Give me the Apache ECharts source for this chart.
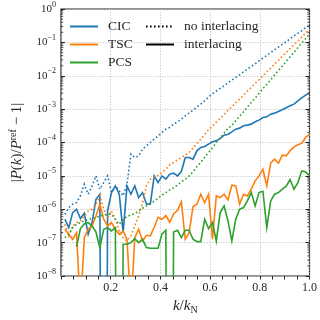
<!DOCTYPE html>
<html>
<head>
<meta charset="utf-8">
<script src="https://cdn.jsdelivr.net/npm/echarts@6/dist/echarts.min.js"></script>
<style>
  html, body { margin: 0; padding: 0; background: #fff; }
  #main { width: 320px; height: 320px; }
</style>
</head>
<body>
<div id="main"></div>
<script>
  // k / k_N sampling grid (64 bins)
  const kOverKN = [
    0.0156, 0.0313, 0.0469, 0.0625, 0.0781, 0.0938, 0.1094, 0.125,
    0.1406, 0.1563, 0.1719, 0.1875, 0.2031, 0.2188, 0.2344, 0.25,
    0.2656, 0.2813, 0.2969, 0.3125, 0.3281, 0.3438, 0.3594, 0.375,
    0.3906, 0.4063, 0.4219, 0.4375, 0.4531, 0.4688, 0.4844, 0.5,
    0.5156, 0.5313, 0.5469, 0.5625, 0.5781, 0.5938, 0.6094, 0.625,
    0.6406, 0.6563, 0.6719, 0.6875, 0.7031, 0.7188, 0.7344, 0.75,
    0.7656, 0.7813, 0.7969, 0.8125, 0.8281, 0.8438, 0.8594, 0.875,
    0.8906, 0.9063, 0.9219, 0.9375, 0.9531, 0.9688, 0.9844, 1.0
  ];

  // log10 |P(k)/P_ref - 1| (-30 = value dropped to ~0)
  const cicNoInterlacing = [
    -6.15, -5.95, -5.85, -5.8, -5.6, -5.25, -5.55, -5.3,
    -5.0, -5.4, -5.2, -5.0, -5.5, -5.3, -5.45, -5.6,
    -5.25, -4.35, -4.45, -4.4, -4.2, -4.1, -4.0, -3.9,
    -3.8, -3.7, -3.6, -3.55, -3.45, -3.38, -3.3, -3.2,
    -3.12, -3.03, -2.93, -2.85, -2.75, -2.64, -2.54, -2.46,
    -2.38, -2.3, -2.21, -2.13, -2.05, -1.97, -1.88, -1.8,
    -1.72, -1.64, -1.55, -1.47, -1.39, -1.31, -1.22, -1.14,
    -1.06, -0.98, -0.89, -0.81, -0.73, -0.65, -0.56, -0.48
  ];
  const cicInterlacing = [
    -6.3, -6.55, -6.1, -6.0, -6.28, -6.12, -6.75, -6.4,
    -5.7, -5.55, -30, -6.05, -5.5, -5.3, -5.55, -6.7,
    -5.3, -5.55, -5.3, -5.65, -5.5, -5.84, -5.85, -5.0,
    -5.2, -5.0, -5.1, -4.95, -4.92, -5.0, -4.87, -4.45,
    -4.45, -4.5, -4.25, -4.15, -4.12, -4.05, -3.98, -3.95,
    -3.88, -3.78, -3.75, -3.68, -3.6, -3.57, -3.5, -3.48,
    -3.45, -3.38, -3.33, -3.25, -3.23, -3.15, -3.12, -3.07,
    -3.02, -2.96, -2.9, -2.85, -2.75, -2.66, -2.58, -2.52
  ];
  const tscNoInterlacing = [
    -6.45, -6.8, -6.5, -6.4, -6.35, -6.2, -6.05, -6.0,
    -5.85, -5.6, -6.0, -6.25, -6.05, -6.3, -6.65, -6.85,
    -6.95, -6.8, -6.5, -6.2, -5.8, -5.3, -5.1, -5.05,
    -4.98, -4.9, -4.8, -4.67, -4.6, -4.52, -4.45, -4.38,
    -4.3, -4.17, -4.03, -3.9, -3.76, -3.62, -3.51, -3.39,
    -3.28, -3.16, -3.04, -2.93, -2.81, -2.7, -2.58, -2.46,
    -2.35, -2.23, -2.12, -2.0, -1.88, -1.77, -1.65, -1.54,
    -1.42, -1.3, -1.19, -1.07, -0.96, -0.84, -0.72, -0.61
  ];
  const tscInterlacing = [
    -6.6, -6.75, -6.9, -6.7, -9.0, -6.85, -6.6, -6.5,
    -6.2, -5.85, -6.3, -6.5, -6.4, -6.6, -6.75, -6.65,
    -6.9, -9.0, -6.85, -6.6, -6.95, -6.78, -6.8, -6.54,
    -6.24, -6.3, -6.19, -6.39, -6.14, -6.04, -5.78, -6.9,
    -6.7, -5.92, -5.85, -5.55, -5.8, -5.55, -6.9, -5.6,
    -5.65, -5.55, -5.72, -5.28, -5.3, -5.85, -5.55, -5.6,
    -5.4, -5.15, -5.0, -4.8, -5.3, -4.62, -4.5, -4.62,
    -4.38, -4.4, -4.25, -4.13, -4.07, -4.02, -3.85, -3.75
  ];
  const pcsNoInterlacing = [
    -6.85, -6.75, -6.55, -6.45, -6.4, -6.35, -6.3, -6.28,
    -6.25, -6.2, -6.18, -6.15, -6.15, -6.3, -6.45, -6.3,
    -6.22, -6.17, -6.13, -6.05, -5.97, -5.9, -5.83, -5.76,
    -5.67, -5.58, -5.5, -5.42, -5.36, -5.27, -5.18, -5.1,
    -5.0, -4.88, -4.72, -4.6, -4.44, -4.3, -4.16, -4.0,
    -3.86, -3.72, -3.58, -3.49, -3.35, -3.21, -3.08, -2.94,
    -2.8, -2.67, -2.53, -2.39, -2.26, -2.12, -1.98, -1.84,
    -1.71, -1.57, -1.43, -1.3, -1.16, -1.02, -0.89, -0.75
  ];
  const pcsInterlacing = [
    null, null, null, -7.12, -6.58, -6.44, -6.4, -6.5,
    -6.68, -7.15, -6.6, -6.55, -6.65, -6.55, -30, -7.05,
    -7.05, -7.0, -6.88, -7.0, -6.9, -7.15, -7.17, -7.17,
    -7.17, -6.75, -6.63, -30, -6.68, -6.63, -6.85, -6.63,
    -6.63, -6.9, -6.97, -6.97, -6.3, -6.58, -6.4, -6.95,
    -6.1, -5.9, -6.35, -6.95, -6.3, -6.0, -5.95, -5.75,
    -5.5, -5.9, -5.5, -5.46, -6.55, -5.75, -5.55, -5.5,
    -5.4, -5.31, -5.11, -5.4, -5.2, -4.85, -4.88, -5.0
  ];

  const xTickLabels = ['0.2', '0.4', '0.6', '0.8', '1.0'];
  const yDecades = [-8, -7, -6, -5, -4, -3, -2, -1, 0];

  const colors = { CIC: '#1f77b4', TSC: '#ff7f0e', PCS: '#2ca02c' };
  const ink = '#262626';
  const serif = 'Liberation Serif';
  const dotted = [1.6, 2.4];
  const gridDots = { color: '#b8b8b8', width: 0.8, type: [1.2, 1.6] };

  function pairs(logs) {
    return kOverKN.map((k, i) => [k, logs[i] == null ? null : Math.pow(10, logs[i])]);
  }

  // log minor ticks 2..9 x 10^n
  const minorTicks = [];
  yDecades.slice(0, -1).forEach(d => {
    for (let m = 2; m <= 9; m++) minorTicks.push([0, m * Math.pow(10, d)]);
  });

  function dataLine(name, logs, color, dash, z) {
    return {
      name: name, type: 'line', data: pairs(logs), symbol: 'none',
      clip: true, silent: true, z: z,
      lineStyle: { color: color, width: 1.6, type: dash, cap: 'butt', join: 'miter' }
    };
  }
  function legendLine(name, color, dash) {
    return {
      name: name, type: 'line', data: [], symbol: 'none', symbolSize: 0, color: color,
      lineStyle: { color: color, width: 1.6, type: dash, cap: 'butt' }
    };
  }
  function legendBlock(names, left) {
    // itemHeight kept tiny so the line icon carries no visible symbol
    return {
      data: names, orient: 'vertical', left: left, top: 19,
      padding: 0, itemWidth: 28, itemHeight: 0.6, itemGap: 3,
      textStyle: { fontFamily: serif, fontSize: 13.5, lineHeight: 15, color: ink, padding: [0, 0, 0, 5] },
      selectedMode: false
    };
  }

  const chart = echarts.init(document.getElementById('main'), null, { renderer: 'canvas' });

  const yAxisBase = {
    type: 'log', logBase: 10, min: 1e-8, max: 1, splitNumber: 8,
    axisLine: { show: false },
    axisTick: { show: true, inside: true, length: 4, lineStyle: { color: ink, width: 1 } },
    minorTick: { show: false }
  };

  chart.setOption({
    animation: false,
    textStyle: { fontFamily: serif, color: ink },
    grid: {
      left: 57, right: 9, top: 9, bottom: 39,
      show: true, borderColor: ink, borderWidth: 1.2, backgroundColor: 'transparent'
    },
    legend: [
      legendBlock(['CIC', 'TSC', 'PCS'], 69),
      legendBlock(['no interlacing', 'interlacing'], 145)
    ],
    xAxis: {
      type: 'value', min: 0, max: 1, interval: 0.2,
      name: '{i|k}{n|/}{i|k}{sub|N}', nameLocation: 'middle', nameGap: 22,
      nameTextStyle: {
        rich: {
          i: { fontFamily: serif, fontStyle: 'italic', fontSize: 15, color: ink },
          n: { fontFamily: serif, fontSize: 15, color: ink },
          sub: { fontFamily: serif, fontSize: 10, color: ink, padding: [7, 0, 0, 0] }
        }
      },
      axisLine: { show: false },
      axisTick: { show: true, length: 3.5, lineStyle: { color: ink, width: 1 } },
      minorTick: { show: true, splitNumber: 4, length: 3.5, lineStyle: { color: ink, width: 1 } },
      axisLabel: {
        margin: 6, fontFamily: serif, fontSize: 12, color: ink,
        formatter: v => {
          const lbl = v.toFixed(1);
          return xTickLabels.indexOf(lbl) >= 0 ? lbl : '';
        }
      },
      splitLine: { show: true, lineStyle: gridDots }
    },
    yAxis: [
      Object.assign({}, yAxisBase, {
        position: 'left',
        name: '{n||}{i|P}{n|(}{i|k}{n|)/}{i|P}{sup|ref}{n| − 1|}',
        nameLocation: 'middle', nameRotate: 90, nameGap: 34,
        nameTextStyle: {
          rich: {
            i: { fontFamily: serif, fontStyle: 'italic', fontSize: 15, color: ink },
            n: { fontFamily: serif, fontSize: 15, color: ink },
            sup: { fontFamily: serif, fontSize: 10, color: ink, padding: [0, 0, 9, 0] }
          }
        },
        axisLabel: {
          margin: 5, fontFamily: serif, color: ink,
          formatter: v => {
            const e = Math.round(Math.log10(v));
            return '{b|10}{s|' + (e < 0 ? '−' + (-e) : e) + '}';
          },
          rich: {
            b: { fontFamily: serif, fontSize: 11, color: ink },
            s: { fontFamily: serif, fontSize: 8, color: ink, padding: [0, 0, 9, 0] }
          }
        },
        splitLine: { show: true, lineStyle: gridDots }
      }),
      Object.assign({}, yAxisBase, {
        position: 'right',
        axisLabel: { show: false },
        splitLine: { show: false }
      })
    ],
    series: [
      legendLine('CIC', colors.CIC, 'solid'),
      legendLine('TSC', colors.TSC, 'solid'),
      legendLine('PCS', colors.PCS, 'solid'),
      legendLine('no interlacing', '#000', dotted),
      legendLine('interlacing', '#000', 'solid'),
      dataLine('CIC no', cicNoInterlacing, colors.CIC, dotted, 3),
      dataLine('CIC il', cicInterlacing, colors.CIC, 'solid', 3),
      dataLine('TSC no', tscNoInterlacing, colors.TSC, dotted, 4),
      dataLine('TSC il', tscInterlacing, colors.TSC, 'solid', 4),
      dataLine('PCS no', pcsNoInterlacing, colors.PCS, dotted, 5),
      dataLine('PCS il', pcsInterlacing, colors.PCS, 'solid', 5),
      {
        type: 'custom', silent: true, data: minorTicks, z: 6,
        renderItem: (params, api) => {
          const v = api.value(1);
          const l = api.coord([0, v]);
          const r = api.coord([1, v]);
          const st = { stroke: ink, lineWidth: 0.8 };
          return {
            type: 'group', children: [
              { type: 'line', shape: { x1: l[0], y1: l[1], x2: l[0] + 2.2, y2: l[1] }, style: st },
              { type: 'line', shape: { x1: r[0], y1: r[1], x2: r[0] - 2.2, y2: r[1] }, style: st }
            ]
          };
        }
      }
    ]
  });
</script>
</body>
</html>
